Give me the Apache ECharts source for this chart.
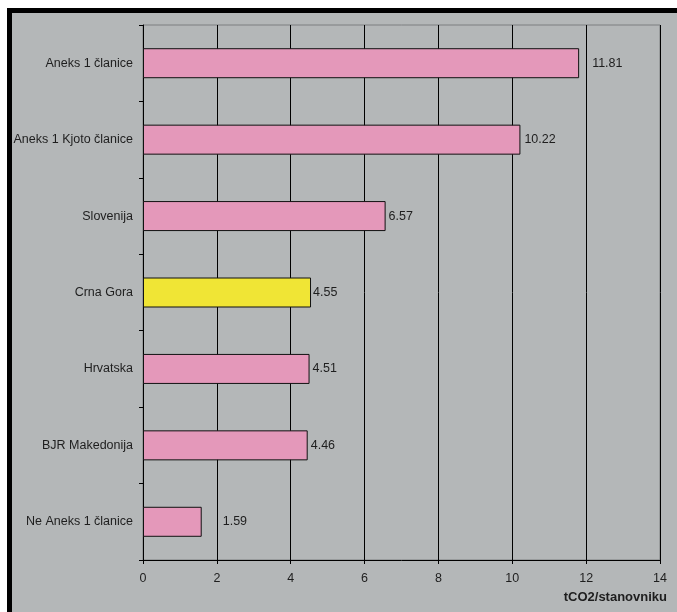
<!DOCTYPE html>
<html>
<head>
<meta charset="utf-8">
<script src="https://cdn.jsdelivr.net/npm/echarts@6/dist/echarts.min.js"></script>
<style>
  html, body { margin: 0; padding: 0; background: #ffffff; }
  #chart { width: 677px; height: 612px; }
</style>
</head>
<body>
<div id="chart"></div>
<script>
// Emisije CO2 po stanovniku
const categories = [
  'Aneks 1 članice',
  'Aneks 1 Kjoto članice',
  'Slovenija',
  'Crna Gora',
  'Hrvatska',
  'BJR Makedonija',
  'Ne Aneks 1 članice'
];
const values = [11.81, 10.22, 6.57, 4.55, 4.51, 4.46, 1.59];
const highlighted = ['Crna Gora'];
const xTicks = { min: 0, max: 14, step: 2 };
const axisTitle = 'tCO2/stanovniku';

// gap between each bar's end and its value label (px)
const labelGap = [13, 4, 3, 2, 3, 3, 21];

const FONT = '"Liberation Sans", Arial, sans-serif';
const TEXT = '#1e1e1e';
const PINK = '#e498ba';
const YELLOW = '#f0e535';
const BG = '#b4b7b8';

const chart = echarts.init(document.getElementById('chart'), null, { renderer: 'canvas' });

chart.setOption({
  backgroundColor: BG,
  animation: false,
  grid: {
    left: 143, top: 25, right: 17, bottom: 52,
    show: true, borderColor: '#7c7f80', borderWidth: 1,
    backgroundColor: 'transparent'
  },
  xAxis: {
    type: 'value',
    min: xTicks.min, max: xTicks.max, interval: xTicks.step,
    axisLine: { show: true, lineStyle: { color: '#000', width: 1 } },
    axisTick: { show: true, length: 4, lineStyle: { color: '#000' } },
    splitLine: { show: true, lineStyle: { color: '#000', width: 1 } },
    axisLabel: { color: TEXT, fontFamily: FONT, fontSize: 12.5, margin: 12 }
  },
  yAxis: {
    type: 'category',
    inverse: true,
    data: categories,
    axisLine: { show: true, lineStyle: { color: '#000', width: 1 } },
    axisTick: { show: true, length: 4, alignWithLabel: false, lineStyle: { color: '#000' } },
    splitLine: { show: false },
    axisLabel: { color: TEXT, fontFamily: FONT, fontSize: 12.5, margin: 10 }
  },
  series: [{
    type: 'bar',
    barWidth: 30,
    data: values.map((v, i) => ({
      value: v,
      itemStyle: { color: highlighted.includes(categories[i]) ? YELLOW : PINK },
      label: { distance: labelGap[i] }
    })),
    itemStyle: { borderColor: '#111', borderWidth: 1 },
    label: {
      show: true,
      position: 'right',
      color: TEXT,
      fontFamily: FONT,
      fontSize: 12.5,
      formatter: p => p.value.toFixed(2)
    }
  }],
  graphic: [
    { type: 'rect', shape: { x: 0, y: 0, width: 677, height: 8 }, style: { fill: '#ffffff' }, silent: true },
    { type: 'rect', shape: { x: 0, y: 8, width: 7, height: 604 }, style: { fill: '#ffffff' }, silent: true },
    { type: 'rect', shape: { x: 7, y: 8, width: 670, height: 5 }, style: { fill: '#000000' }, silent: true },
    { type: 'rect', shape: { x: 7, y: 8, width: 5, height: 604 }, style: { fill: '#000000' }, silent: true },
    {
      type: 'text', right: 10, top: 591,
      style: { text: axisTitle, fill: TEXT, font: 'bold 13px ' + FONT }
    }
  ]
});
</script>
</body>
</html>
